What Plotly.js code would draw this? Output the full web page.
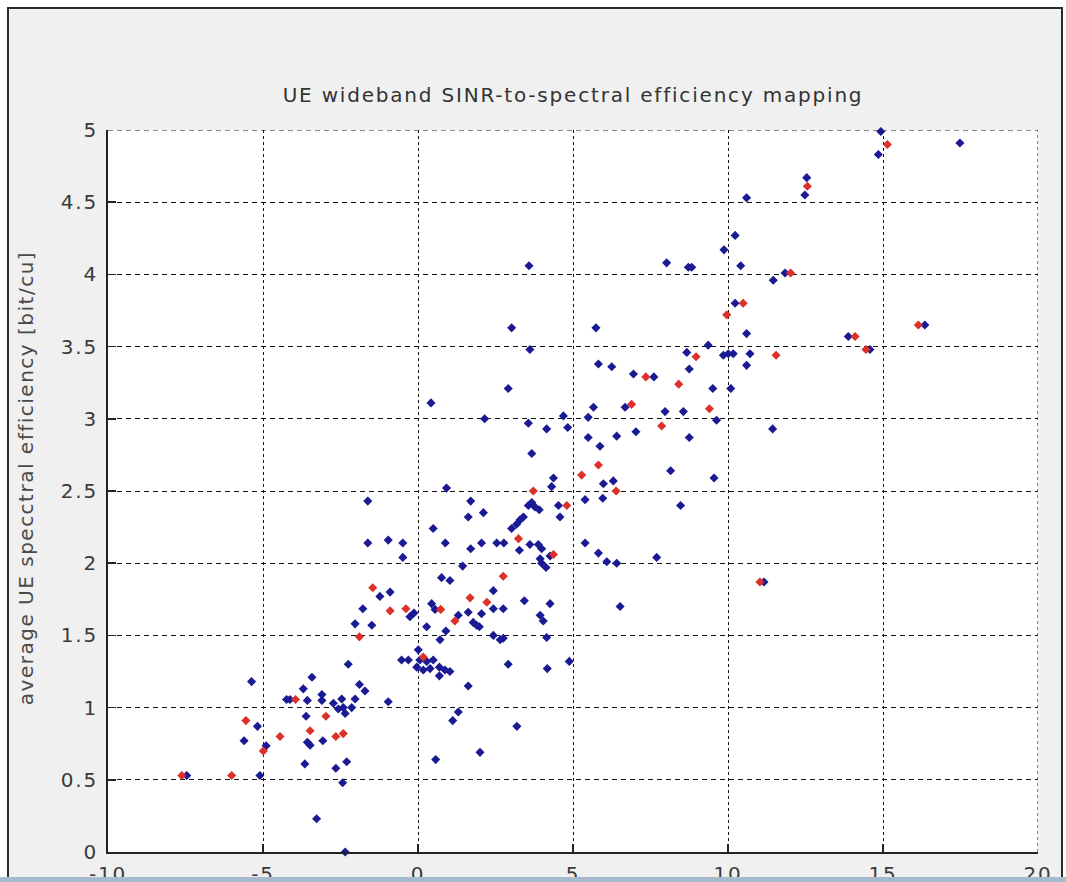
<!DOCTYPE html>
<html>
<head>
<meta charset="utf-8">
<script src="https://cdn.plot.ly/plotly-3.0.1.min.js"></script>
<style>
  html, body { margin: 0; padding: 0; background: #ffffff; overflow: hidden; }
  #chart { position: absolute; left: 0; top: 0; width: 1066px; height: 882px; }
  #chart text { letter-spacing: 1.8px; }
  #chart .annotation text { letter-spacing: 1.5px; }
  .edge { position: absolute; pointer-events: none; }
</style>
</head>
<body>
<div id="chart"></div>
<!-- window frame around the figure -->
<div class="edge" style="left:0;top:0;width:1066px;height:7px;background:#ffffff"></div>
<div class="edge" style="left:0;top:0;width:7px;height:882px;background:#ffffff"></div>
<div class="edge" style="left:1063px;top:0;width:3px;height:882px;background:#ffffff"></div>
<div class="edge" style="left:7px;top:7px;width:1056px;height:2px;background:#2b2b2b"></div>
<div class="edge" style="left:7px;top:7px;width:2px;height:872px;background:#2b2b2b"></div>
<div class="edge" style="left:1061px;top:7px;width:2px;height:872px;background:#2b2b2b"></div>
<div class="edge" style="left:0;top:877px;width:1066px;height:5px;background:#a7b9cc"></div>
<script>
// UE wideband SINR (dB) vs. average spectral efficiency (bit/cu)
const blueX = [-7.46, -5.10, -5.37, -5.18, -5.61, -4.90, -4.24, -4.13, -3.70, -3.42,
  -3.57, -3.61, -3.57, -3.48, -3.65, -3.10, -3.10, -3.07, -3.27, -2.73,
  -2.46, -2.41, -2.35, -2.14, -2.03, -2.57, -2.65, -2.30, -2.43, -2.35,
  -2.25, -1.89, -1.71, -0.96, -1.78, -2.03, -1.49, -1.23, -0.90, -0.26,
  -0.13, 0.44, 0.55, 1.30, 1.62, 1.78, 1.89, 0.28, 0.90, 0.71,
  0.01, 0.06, 0.28, 0.49, -0.04, 0.17, 0.39, -0.53, -0.31, 0.69,
  0.87, 1.03, 0.69, 1.62, 1.30, 1.12, 2.00, 0.57, 0.76, 1.03,
  1.44, -0.49, 0.42, 2.15, 0.92, -1.62, 1.70, 1.62, 2.11, 0.49,
  -1.62, -0.96, -0.49, 0.88, 1.70, 2.05, 3.02, 5.74, 3.61, 5.82,
  6.25, 6.95, 2.91, 6.68, 5.66, 3.56, 4.69, 4.15, 4.83, 5.49,
  5.49, 5.87, 6.41, 7.03, 3.67, 4.37, 4.31, 5.98, 6.30, 5.39,
  5.96, 3.67, 3.77, 3.91, 3.56, 4.53, 4.58, 3.40, 3.29, 3.18,
  3.02, 2.54, 2.77, 3.27, 3.61, 3.88, 3.99, 4.26, 3.94, 3.99,
  4.13, 5.39, 5.82, 6.09, 6.41, 6.52, 2.43, 2.43, 2.75, 2.05,
  1.98, 3.43, 4.26, 3.94, 4.04, 2.43, 2.65, 2.75, 4.15, 2.91,
  4.17, 4.88, 3.19, 3.58, 10.23, 9.87, 8.02, 8.72, 8.83, 10.41,
  11.46, 11.84, 10.23, 10.60, 9.36, 8.67, 9.85, 10.01, 10.17, 10.71,
  10.60, 8.75, 7.61, 9.51, 10.09, 7.97, 8.56, 9.63, 8.75, 11.44,
  8.15, 9.55, 8.47, 7.70, 11.16, 14.93, 14.85, 17.48, 12.54, 12.48,
  13.88, 14.58, 16.35, 10.60];
const blueY = [0.53, 0.53, 1.18, 0.87, 0.77, 0.735, 1.056, 1.056, 1.13, 1.21,
  1.05, 0.94, 0.76, 0.74, 0.61, 1.09, 1.05, 0.77, 0.23, 1.03,
  1.06, 1.00, 0.96, 1.00, 1.06, 0.99, 0.58, 0.625, 0.48, 0.0,
  1.30, 1.16, 1.115, 1.04, 1.685, 1.58, 1.57, 1.77, 1.80, 1.63,
  1.655, 1.72, 1.68, 1.64, 1.66, 1.59, 1.57, 1.56, 1.53, 1.47,
  1.40, 1.33, 1.32, 1.33, 1.28, 1.26, 1.27, 1.33, 1.33, 1.28,
  1.26, 1.25, 1.22, 1.15, 0.97, 0.91, 0.69, 0.64, 1.90, 1.88,
  1.98, 2.04, 3.11, 3.00, 2.52, 2.43, 2.43, 2.32, 2.35, 2.24,
  2.14, 2.16, 2.14, 2.14, 2.10, 2.14, 3.63, 3.63, 3.48, 3.38,
  3.36, 3.31, 3.21, 3.08, 3.08, 2.97, 3.02, 2.93, 2.94, 3.01,
  2.87, 2.81, 2.88, 2.91, 2.76, 2.59, 2.53, 2.55, 2.57, 2.44,
  2.45, 2.42, 2.39, 2.37, 2.40, 2.40, 2.32, 2.32, 2.30, 2.27,
  2.24, 2.14, 2.14, 2.09, 2.13, 2.13, 2.10, 2.05, 2.03, 2.00,
  1.97, 2.14, 2.07, 2.01, 2.00, 1.70, 1.81, 1.685, 1.685, 1.65,
  1.56, 1.74, 1.72, 1.64, 1.60, 1.50, 1.47, 1.48, 1.485, 1.30,
  1.27, 1.32, 0.87, 4.06, 4.27, 4.17, 4.08, 4.05, 4.05, 4.06,
  3.96, 4.01, 3.80, 3.59, 3.51, 3.46, 3.44, 3.45, 3.45, 3.45,
  3.37, 3.345, 3.29, 3.21, 3.21, 3.05, 3.05, 2.99, 2.87, 2.93,
  2.64, 2.59, 2.40, 2.04, 1.87, 4.99, 4.83, 4.91, 4.67, 4.55,
  3.57, 3.48, 3.65, 4.53];

const redX = [-7.62, -6.01, -5.55, -4.99, -4.45, -3.95, -3.48, -2.97, -2.65, -2.41,
  -1.46, -0.90, -1.89, -0.39, 0.73, 1.68, 1.19, 0.17, 6.89, 5.82,
  5.28, 6.39, 3.72, 4.80, 3.24, 4.37, 2.75, 2.22, 12.02, 10.49,
  9.96, 8.97, 11.55, 7.35, 8.41, 9.40, 7.86, 11.03, 15.14, 12.56,
  14.10, 14.45, 16.14];
const redY = [0.53, 0.53, 0.91, 0.70, 0.80, 1.056, 0.84, 0.94, 0.80, 0.82,
  1.83, 1.67, 1.49, 1.685, 1.68, 1.76, 1.60, 1.35, 3.10, 2.68,
  2.61, 2.50, 2.50, 2.40, 2.17, 2.06, 1.91, 1.73, 4.01, 3.80,
  3.72, 3.43, 3.44, 3.29, 3.24, 3.07, 2.95, 1.87, 4.90, 4.61,
  3.57, 3.48, 3.65];

const xTickVals = [-10, -5, 0, 5, 10, 15, 20];
const xTickText = ['-10', '-5', '0', '5', '10', '15', '20'];
const yTickVals = [0, 0.5, 1, 1.5, 2, 2.5, 3, 3.5, 4, 4.5, 5];
const yTickText = ['0', '0.5', '1', '1.5', '2', '2.5', '3', '3.5', '4', '4.5', '5'];

const FONT = 'DejaVu Sans, Liberation Sans, Arial, sans-serif';
const GRID = '#111111';

const traces = [
  {
    type: 'scatter', mode: 'markers', x: blueX, y: blueY, name: 'UE',
    marker: { symbol: 'diamond', size: 7, color: '#1a1a94', line: { width: 0 } },
    cliponaxis: false
  },
  {
    type: 'scatter', mode: 'markers', x: redX, y: redY, name: 'UE (highlighted)',
    marker: { symbol: 'diamond', size: 7, color: '#dc3028', line: { width: 0 } },
    cliponaxis: false
  }
];

const axisCommon = {
  showgrid: true,
  gridcolor: GRID,
  gridwidth: 1,
  zeroline: false,
  showline: true,
  linecolor: '#222222',
  linewidth: 2,
  ticks: 'inside',
  ticklen: 8,
  tickwidth: 1.5,
  tickcolor: '#222222',
  tickfont: { family: FONT, size: 20, color: '#3a3a3a' },
  tickmode: 'array',
  fixedrange: true
};

const layout = {
  width: 1066,
  height: 882,
  margin: { l: 108, r: 28, t: 130, b: 30 },
  paper_bgcolor: '#f0f0f0',
  plot_bgcolor: '#ffffff',
  showlegend: false,
  title: {
    text: 'UE wideband SINR-to-spectral efficiency mapping',
    font: { family: FONT, size: 20, color: '#333333' },
    xref: 'paper', x: 0.5, xanchor: 'center',
    yref: 'container', y: 1 - 95 / 882, yanchor: 'middle'
  },
  xaxis: Object.assign({}, axisCommon, {
    range: [-10, 20],
    tickvals: xTickVals,
    ticktext: xTickText,
    griddash: '3px,3px',
    ticklabelstandoff: 3
  }),
  yaxis: Object.assign({}, axisCommon, {
    range: [0, 5],
    tickvals: yTickVals,
    ticktext: yTickText,
    griddash: '5px,4px',
    ticklabelstandoff: 4
  }),
  // dotted grid lines along the upper and right borders of the axes box
  shapes: [
    {
      type: 'line', xref: 'paper', yref: 'y', x0: 0, x1: 1, y0: 5, y1: 5,
      line: { color: GRID, width: 1, dash: '5px,4px' }, layer: 'below'
    },
    {
      type: 'line', xref: 'x', yref: 'paper', x0: 20, x1: 20, y0: 0, y1: 1,
      line: { color: GRID, width: 1, dash: '3px,3px' }, layer: 'below'
    }
  ],
  annotations: [{
    text: 'average UE specctral efficiency [bit/cu]',
    xref: 'paper', yref: 'paper',
    x: (26 - 108) / 930, y: (852 - 478) / 722,
    xanchor: 'center', yanchor: 'middle',
    textangle: -90, showarrow: false,
    font: { family: FONT, size: 20, color: '#4a4a4a' }
  }]
};

Plotly.newPlot('chart', traces, layout, { displayModeBar: false, staticPlot: true });
</script>
</body>
</html>
